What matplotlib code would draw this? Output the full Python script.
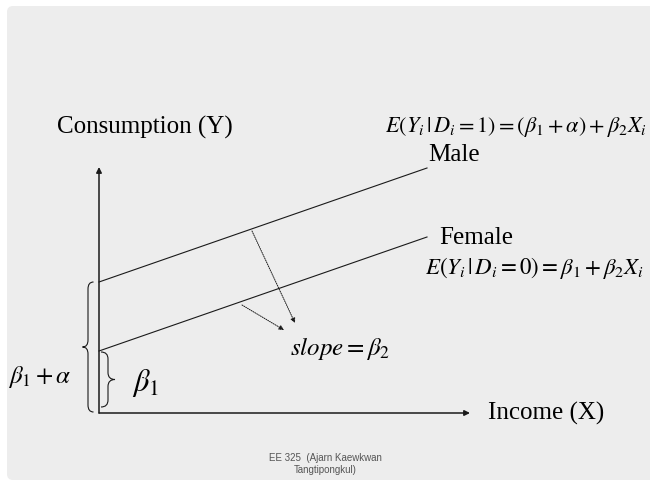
import matplotlib
matplotlib.use("Agg")
import matplotlib.pyplot as plt
from matplotlib.patches import FancyBboxPatch, PathPatch
from matplotlib.path import Path

# Diagram data (units: income / consumption, origin at the axes corner)
income = [0, 328]
male_y = [131, 245]
female_y = [62, 176]
beta1 = 62
beta1_alpha = 131
axis_x_end = 371
axis_y_end = 246

# slope arrows: (start_x, start_y, end_x, end_y)
slope_arrows = [(153, 182, 196, 90), (143, 108, 185, 83)]

plt.rcParams['font.family'] = ['Liberation Serif', 'DejaVu Serif']
plt.rcParams['mathtext.fontset'] = 'stix'

INK = '#1a1a1a'


def brace(ax, x, y0, y1, width, direction, lw=0.8):
    """Vertical curly brace, tip pointing left (-1) or right (+1)."""
    ym = (y0 + y1) / 2
    h = width / 2
    r = min(7, (y1 - y0) / 4)
    xe = x - direction * h
    xt = x + direction * h
    verts = [(xe, y0), (x, y0), (x, y0 + r),
             (x, ym - r),
             (x, ym), (xt, ym),
             (x, ym), (x, ym + r),
             (x, y1 - r),
             (x, y1), (xe, y1)]
    codes = [Path.MOVETO, Path.CURVE3, Path.CURVE3,
             Path.LINETO,
             Path.CURVE3, Path.CURVE3,
             Path.CURVE3, Path.CURVE3,
             Path.LINETO,
             Path.CURVE3, Path.CURVE3]
    ax.add_patch(PathPatch(Path(verts, codes), fill=False, ec=INK, lw=lw))


def main():
    fig = plt.figure(figsize=(6.5, 4.82), dpi=100, facecolor='white')
    ax = fig.add_axes([0, 0, 1, 1])
    ax.set_xlim(-99, 551)
    ax.set_ylim(-69, 413)
    ax.axis('off')

    # slide background (runs past the right edge)
    ax.add_patch(FancyBboxPatch((-92, -67), 680, 474,
                                boxstyle='round,pad=0,rounding_size=6',
                                fc='#ededed', ec='none', zorder=0))

    # axes with arrows
    ax.annotate('', xy=(0, axis_y_end), xytext=(0, 0),
                arrowprops=dict(arrowstyle='-|>', color=INK, lw=1.1,
                                mutation_scale=8, shrinkA=0, shrinkB=0))
    ax.annotate('', xy=(axis_x_end, 0), xytext=(0, 0),
                arrowprops=dict(arrowstyle='-|>', color=INK, lw=1.1,
                                mutation_scale=8, shrinkA=0, shrinkB=0))

    # regression lines
    ax.plot(income, male_y, color=INK, lw=0.8)
    ax.plot(income, female_y, color=INK, lw=0.8)

    # dotted slope arrows
    for x0, y0, x1, y1 in slope_arrows:
        ax.annotate('', xy=(x1, y1), xytext=(x0, y0),
                    arrowprops=dict(arrowstyle='-|>', color=INK, lw=0.7,
                                    linestyle=(0, (1, 1.2)),
                                    mutation_scale=7, shrinkA=0, shrinkB=0))

    # braces
    brace(ax, -11, 1, beta1_alpha, 11, -1)
    brace(ax, 9, 6, beta1 - 1, 14, +1)

    # labels
    fs = 18
    ax.text(-42, 286, 'Consumption (Y)', fontsize=fs, va='center', ha='left')
    ax.text(329, 258, 'Male', fontsize=fs, va='center', ha='left')
    ax.text(340, 175, 'Female', fontsize=fs, va='center', ha='left')
    ax.text(389, 0, 'Income (X)', fontsize=fs, va='center', ha='left')

    ax.text(286, 286, r'$E(Y_i\,|\,D_i=1)=(\beta_1+\alpha)+\beta_2X_i$',
            fontsize=16, va='center', ha='left')
    ax.text(326, 145, r'$E(Y_i\,|\,D_i=0)=\beta_1+\beta_2X_i$',
            fontsize=16.5, va='center', ha='left')
    ax.text(191, 65, r'$slope=\beta_2$', fontsize=fs, va='center', ha='left')
    ax.text(-91, 36, r'$\beta_1+\alpha$', fontsize=fs, va='center', ha='left')
    ax.text(33, 30, r'$\beta_1$', fontsize=22, va='center', ha='left')

    # footer
    ax.text(226, -51, 'EE 325  (Ajarn Kaewkwan\nTangtipongkul)',
            fontsize=7, family=['Liberation Sans', 'DejaVu Sans'],
            color='#555555', ha='center', va='center', linespacing=1.35)

    fig.savefig('out.png', dpi=100, facecolor='white')


if __name__ == '__main__':
    main()
